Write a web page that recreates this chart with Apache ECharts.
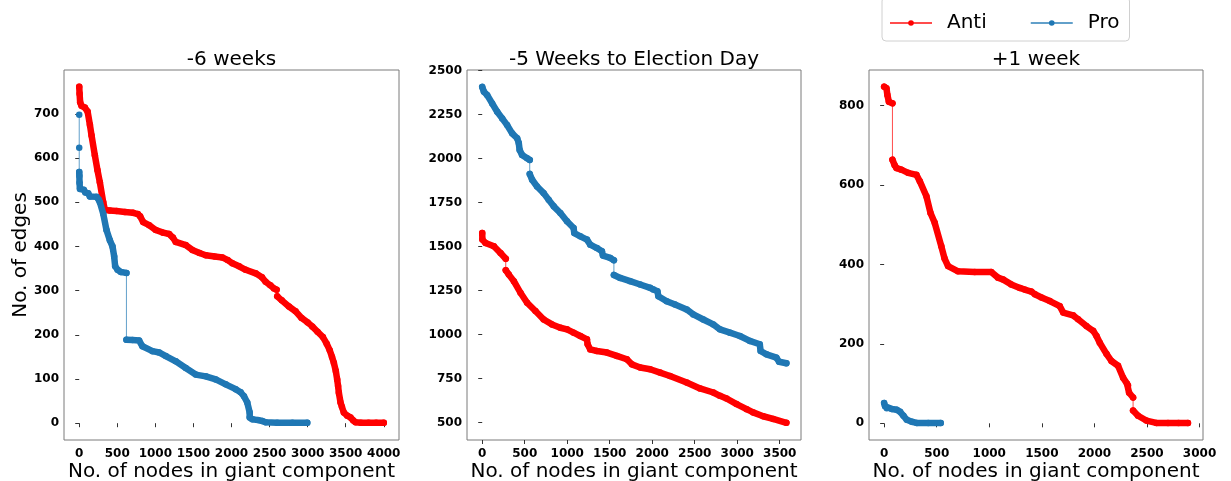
<!DOCTYPE html>
<html>
<head>
<meta charset="utf-8">
<script src="https://cdn.jsdelivr.net/npm/echarts@6/dist/echarts.min.js"></script>
<style>
  html, body { margin: 0; padding: 0; background: #fff; }
  #chart { width: 1231px; height: 481px; }
</style>
</head>
<body>
<div id="chart"></div>
<script>
// Edges remaining in the giant component as nodes are removed, per period.
// A null marks a sudden drop, drawn as a thin connector only.
const titles = ['-6 weeks', '-5 Weeks to Election Day', '+1 week'];
const seriesNames = ['Anti', 'Pro'];

const antiWeek6 = [[0,761],[5,745],[12,726],[30,718],[74,714],[110,705],[140,675],[162,651],[205,606],[240,572],[271,545],[315,500],[337,483],[400,481],[490,480],[600,478],[708,476],[770,473],[800,468],[839,455],[918,448],[1006,437],[1102,431],[1180,428],[1230,420],[1268,410],[1399,403],[1486,392],[1580,385],[1662,380],[1780,377],[1880,375],[1950,369],[2011,362],[2100,355],[2186,347],[2317,339],[2400,330],[2448,320],[2510,312],[2557,305],[2592,302],null,[2601,287],[2660,278],[2754,264],[2842,253],[2920,238],[3000,228],[3060,219],[3130,207],[3200,195],[3250,180],[3290,165],[3320,150],[3344,137],[3370,118],[3388,99],[3400,84],[3410,69],[3432,47],[3450,37],[3475,24],[3520,17],[3563,13],[3600,6],[3629,2],[3700,1],[3800,1],[3900,1],[4000,1]];
const proWeek6 = [[0,698],null,[0,623],null,[0,568],[2,560],[4,544],[9,530],[60,528],[80,522],[118,520],[140,513],[227,512],[255,506],[271,500],[315,474],[358,437],[402,414],[437,400],[459,377],[472,355],[503,347],[547,342],[620,340],null,[620,189],[700,188],[787,187],[830,174],[962,163],[1049,160],[1137,152],[1268,140],[1399,125],[1530,110],[1662,106],[1793,99],[1924,88],[2055,77],[2120,70],[2164,61],[2207,47],[2239,24],[2239,13],[2273,9],[2350,7],[2404,5],[2448,2],[2600,1],[2800,1],[2995,1]];

const antiWeek5 = [[0,1576],[2,1539],[39,1520],[137,1501],[215,1463],[277,1430],null,[277,1365],[313,1340],[372,1303],[450,1237],[528,1180],[626,1133],[723,1085],[821,1057],[919,1038],[997,1029],[1075,1010],[1154,991],[1232,972],[1240,944],[1271,915],[1349,906],[1467,897],[1584,878],[1701,859],[1760,830],[1858,812],[1975,802],[2092,783],[2209,764],[2405,727],[2562,693],[2718,670],[2796,651],[2874,636],[2992,604],[3110,575],[3187,557],[3305,535],[3422,520],[3578,498]];
const proWeek5 = [[0,2407],[20,2379],[59,2360],[117,2313],[176,2266],[235,2228],[293,2190],[352,2143],[411,2115],[430,2088],[440,2049],[469,2020],[528,2001],[559,1992],null,[559,1912],[587,1879],[645,1841],[723,1803],[782,1765],[841,1728],[919,1690],[997,1643],[1075,1605],[1083,1576],[1154,1558],[1232,1539],[1271,1510],[1349,1491],[1408,1473],[1420,1448],[1506,1435],[1549,1422],null,[1549,1338],[1623,1321],[1740,1303],[1858,1284],[1975,1265],[2014,1255],[2061,1246],[2072,1217],[2170,1189],[2268,1170],[2405,1142],[2483,1114],[2601,1085],[2718,1057],[2796,1029],[2914,1010],[3031,991],[3148,963],[3265,944],[3275,906],[3344,887],[3461,868],[3492,845],[3578,836]];

const antiWeek1 = [[0,848],[22,844],[31,827],[45,810],[79,806],null,[79,664],[100,650],[117,643],[164,639],[228,631],[307,626],[339,610],[402,572],[441,530],[481,505],[544,446],[575,415],[608,396],[703,383],[861,381],[1019,381],[1083,367],[1133,362],[1209,350],[1291,341],[1336,337],[1400,332],[1434,325],[1497,317],[1576,308],[1671,295],[1703,279],[1797,272],[1845,262],[1924,245],[1988,233],[2020,220],[2051,203],[2115,175],[2162,157],[2225,145],[2273,115],[2310,100],[2320,95],[2330,77],[2368,65],null,[2368,32],[2415,19],[2494,7],[2589,1],[2700,1],[2800,1],[2890,1]];
const proWeek1 = [[0,51],[9,43],[25,38],[73,36],[120,34],[152,29],[184,19],[215,9],[263,4],[310,1],[420,1],[538,1]];

// Axis ranges and tick values for each panel
const xRanges = [[-200, 4200], [-179, 3750], [-144, 3033]];
const yRanges = [[-38, 799], [400, 2503], [-42, 890]];
const xTicks = [
  [0, 500, 1000, 1500, 2000, 2500, 3000, 3500, 4000],
  [0, 500, 1000, 1500, 2000, 2500, 3000, 3500],
  [0, 500, 1000, 1500, 2000, 2500, 3000]
];
const yTicks = [
  [0, 100, 200, 300, 400, 500, 600, 700],
  [500, 750, 1000, 1250, 1500, 1750, 2000, 2250, 2500],
  [0, 200, 400, 600, 800]
];
const panels = [
  [antiWeek6, proWeek6],
  [antiWeek5, proWeek5],
  [antiWeek1, proWeek1]
];

const colors = { Anti: '#ff0000', Pro: '#1f77b4' };
const FONT = 'DejaVu Sans';
const grids = [
  { left: 64, top: 70, width: 335, height: 370 },
  { left: 467, top: 70, width: 334, height: 370 },
  { left: 869, top: 70, width: 334, height: 370 }
];

function axis(range, ticks, labelMargin, extra) {
  return Object.assign({
    type: 'value',
    min: range[0],
    max: range[1],
    splitLine: { show: false },
    axisLine: { show: false },
    axisTick: { show: true, inside: false, length: 4, lineStyle: { color: '#333', width: 1 }, customValues: ticks },
    axisLabel: {
      customValues: ticks, formatter: v => String(v),
      fontFamily: FONT, fontWeight: 'bold', fontSize: 12, color: '#000', margin: labelMargin
    }
  }, extra || {});
}

const nameStyle = { fontFamily: FONT, fontSize: 20, color: '#000' };
const xAxes = [], yAxes = [], series = [];
grids.forEach((g, i) => {
  xAxes.push(axis(xRanges[i], xTicks[i], 8, {
    gridIndex: i,
    name: 'No. of nodes in giant component',
    nameLocation: 'middle',
    nameGap: 22,
    nameMoveOverlap: false,
    nameTextStyle: nameStyle
  }));
  yAxes.push(axis(yRanges[i], yTicks[i], 5, i === 0 ? {
    gridIndex: i,
    name: 'No. of edges',
    nameLocation: 'middle',
    nameGap: 33,
    nameMoveOverlap: false,
    nameTextStyle: nameStyle
  } : { gridIndex: i }));

  panels[i].forEach((pts, k) => {
    const name = seriesNames[k];
    const c = colors[name];
    // thick band made of the overlapping markers; breaks at sudden drops
    series.push({
      type: 'line', name: name + ' band', xAxisIndex: i, yAxisIndex: i,
      data: pts.map(p => p === null ? [null, null] : p),
      connectNulls: false, symbol: 'none', silent: true,
      lineStyle: { color: c, width: 6.5, cap: 'round', join: 'round' },
      z: 2 + k * 2
    });
    // thin connecting line with round markers
    series.push({
      type: 'line', name: name, xAxisIndex: i, yAxisIndex: i,
      data: pts.filter(p => p !== null),
      symbol: 'circle', symbolSize: 6.5, showSymbol: true,
      itemStyle: { color: c },
      lineStyle: { color: c, width: 1, opacity: 0.7 },
      z: 3 + k * 2
    });
  });
});

const chart = echarts.init(document.getElementById('chart'), null, { renderer: 'canvas' });
chart.setOption({
  animation: false,
  backgroundColor: '#fff',
  grid: grids.map(g => Object.assign({
    show: true, borderColor: '#7a7a7a', borderWidth: 1, backgroundColor: 'transparent',
    containLabel: false, outerBoundsMode: 'none'
  }, g)),
  xAxis: xAxes,
  yAxis: yAxes,
  series: series,
  legend: {
    data: seriesNames,
    left: 882,
    top: -3,
    padding: [14, 10, 6, 7],
    itemWidth: 42,
    itemHeight: 7,
    itemGap: 43,
    borderColor: '#d0d0d0',
    borderWidth: 1,
    borderRadius: 4,
    backgroundColor: '#fff',
    textStyle: { fontFamily: FONT, fontSize: 20, color: '#000', lineHeight: 24, padding: [0, 0, 0, 10] }
  },
  graphic: titles.map((t, i) => ({
    type: 'text',
    x: grids[i].left + grids[i].width / 2,
    y: grids[i].top - 10,
    style: { text: t, fontSize: 20, fontFamily: FONT, fill: '#000', align: 'center', verticalAlign: 'middle' }
  }))
});
</script>
</body>
</html>
